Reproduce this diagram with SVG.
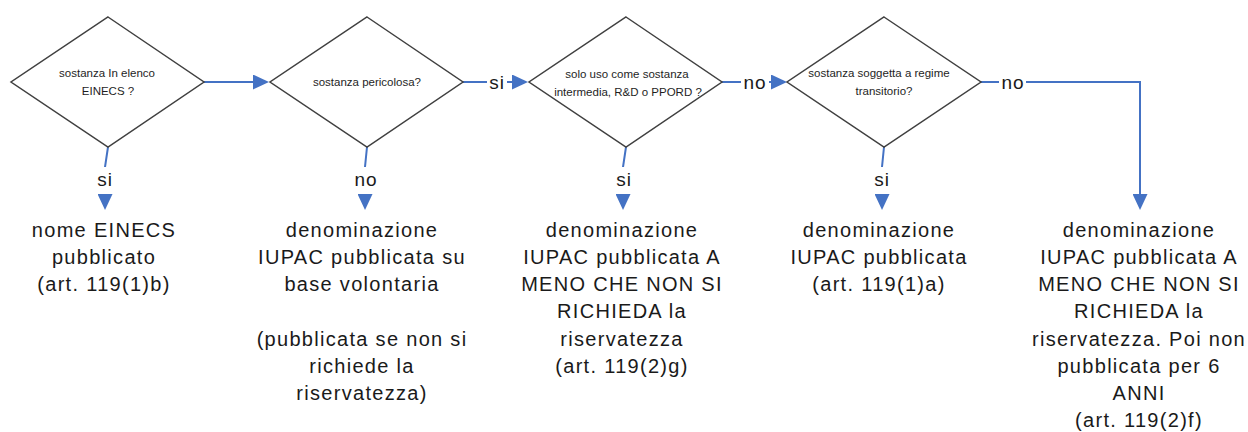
<svg xmlns="http://www.w3.org/2000/svg" width="1248" height="432" viewBox="0 0 1248 432">
  <defs>
    <marker id="arrow" viewBox="0 0 16 15" markerWidth="16" markerHeight="15" refX="12" refY="7.5" orient="auto" markerUnits="userSpaceOnUse">
      <path d="M0,0 L16,7.5 L0,15 z" fill="#4472C4"/>
    </marker>
    <style>
      .dia { fill: #ffffff; stroke: #404040; stroke-width: 1.5; }
      .qt { font-family: "Liberation Sans", Arial, sans-serif; font-size: 11.5px; fill: #1e1e1e; text-anchor: middle; }
      .nt { font-family: "Liberation Sans", Arial, sans-serif; font-size: 20px; letter-spacing: 1.3px; fill: #1a1a1a; text-anchor: middle; }
      .conn { fill: none; stroke: #4472C4; stroke-width: 2; }
      .lbl { font-family: "Liberation Sans", Arial, sans-serif; font-size: 19px; letter-spacing: 1px; fill: #1a1a1a; text-anchor: middle; }
      .lblbg { fill: #ffffff; }
    </style>
  </defs>
  <rect x="0" y="0" width="1248" height="432" fill="#ffffff"/>

  <g id="connectors">
    <path class="conn" d="M204,82 H265" marker-end="url(#arrow)"/>
    <path class="conn" d="M463,82 H524" marker-end="url(#arrow)"/>
    <path class="conn" d="M722,82 H783" marker-end="url(#arrow)"/>
    <path class="conn" d="M981,82 H1140 V206" marker-end="url(#arrow)"/>
    <path class="conn" d="M108,147 L105,167 V206" marker-end="url(#arrow)"/>
    <path class="conn" d="M367,147 L365,167 V206" marker-end="url(#arrow)"/>
    <path class="conn" d="M626,147 L623,167 V206" marker-end="url(#arrow)"/>
    <path class="conn" d="M884,147 L882,167 V206" marker-end="url(#arrow)"/>

    <rect class="lblbg" x="487" y="72" width="20" height="20"/>
    <text class="lbl" x="497" y="89">si</text>
    <rect class="lblbg" x="741" y="72" width="28" height="20"/>
    <text class="lbl" x="755" y="89">no</text>
    <rect class="lblbg" x="999" y="72" width="27" height="20"/>
    <text class="lbl" x="1013" y="89">no</text>

    <rect class="lblbg" x="94" y="167" width="22" height="27"/>
    <text class="lbl" x="105" y="186">si</text>
    <rect class="lblbg" x="351" y="167" width="28" height="27"/>
    <text class="lbl" x="366" y="186">no</text>
    <rect class="lblbg" x="612" y="167" width="22" height="27"/>
    <text class="lbl" x="624" y="186">si</text>
    <rect class="lblbg" x="871" y="167" width="22" height="27"/>
    <text class="lbl" x="882" y="186">si</text>
  </g>

  <g id="q1">
    <polygon class="dia" points="108,17 204,82 108,147 11,82"/>
    <text class="qt" x="107" y="77">sostanza  In elenco</text>
    <text class="qt" x="108" y="95">EINECS ?</text>
  </g>
  <g id="q2">
    <polygon class="dia" points="367,17 463,82 367,147 270,82"/>
    <text class="qt" x="367" y="86">sostanza pericolosa?</text>
  </g>
  <g id="q3">
    <polygon class="dia" points="626,17 722,82 626,147 529,82"/>
    <text class="qt" x="627" y="78">solo uso come sostanza</text>
    <text class="qt" x="628" y="96">intermedia, R&amp;D o PPORD ?</text>
  </g>
  <g id="q4">
    <polygon class="dia" points="884,17 981,82 884,147 787,82"/>
    <text class="qt" x="879" y="77">sostanza soggetta a regime</text>
    <text class="qt" x="884" y="95">transitorio?</text>
  </g>

  <g id="r1">
    <text class="nt" x="104" y="237">nome EINECS</text>
    <text class="nt" x="104" y="264">pubblicato</text>
    <text class="nt" x="104" y="291">(art. 119(1)b)</text>
  </g>
  <g id="r2">
    <text class="nt" x="362" y="237">denominazione</text>
    <text class="nt" x="362" y="264">IUPAC pubblicata su</text>
    <text class="nt" x="362" y="291">base volontaria</text>
    <text class="nt" x="362" y="346">(pubblicata se non si</text>
    <text class="nt" x="362" y="373">richiede la</text>
    <text class="nt" x="362" y="400">riservatezza)</text>
  </g>
  <g id="r3">
    <text class="nt" x="622" y="237">denominazione</text>
    <text class="nt" x="622" y="264">IUPAC pubblicata A</text>
    <text class="nt" x="622" y="291">MENO CHE NON SI</text>
    <text class="nt" x="622" y="318">RICHIEDA la</text>
    <text class="nt" x="622" y="346">riservatezza</text>
    <text class="nt" x="622" y="373">(art. 119(2)g)</text>
  </g>
  <g id="r4">
    <text class="nt" x="879" y="237">denominazione</text>
    <text class="nt" x="879" y="264">IUPAC pubblicata</text>
    <text class="nt" x="879" y="291">(art. 119(1)a)</text>
  </g>
  <g id="r5">
    <text class="nt" x="1139" y="237">denominazione</text>
    <text class="nt" x="1139" y="264">IUPAC pubblicata A</text>
    <text class="nt" x="1139" y="291">MENO CHE NON SI</text>
    <text class="nt" x="1139" y="318">RICHIEDA la</text>
    <text class="nt" x="1139" y="346">riservatezza. Poi non</text>
    <text class="nt" x="1139" y="373">pubblicata per 6</text>
    <text class="nt" x="1139" y="400">ANNI</text>
    <text class="nt" x="1139" y="427">(art. 119(2)f)</text>
  </g>
</svg>
